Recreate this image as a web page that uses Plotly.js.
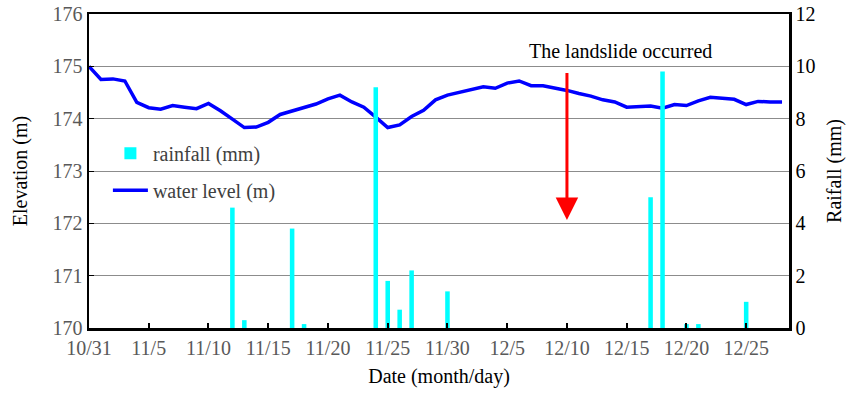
<!DOCTYPE html>
<html>
<head>
<meta charset="utf-8">
<script src="https://cdn.plot.ly/plotly-3.0.1.min.js"></script>
<style>html,body{margin:0;padding:0;background:#fff;}#chart{width:846px;height:394px;}</style>
</head>
<body>
<div id="chart"></div>
<script>
// ---- data ----
const levelDates = ["10/31","11/1","11/2","11/3","11/4","11/5","11/6","11/7","11/8","11/9","11/10",
  "11/11","11/12","11/13","11/14","11/15","11/16","11/17","11/18","11/19","11/20",
  "11/21","11/22","11/23","11/24","11/25","11/26","11/27","11/28","11/29","11/30",
  "12/1","12/2","12/3","12/4","12/5","12/6","12/7","12/8","12/9","12/10",
  "12/11","12/12","12/13","12/14","12/15","12/16","12/17","12/18","12/19","12/20",
  "12/21","12/22","12/23","12/24","12/25","12/26","12/27","12/28"];
const waterLevel = [175.00,174.75,174.76,174.72,174.31,174.21,174.18,174.25,174.22,174.19,174.29,
  174.15,173.99,173.83,173.84,173.93,174.08,174.15,174.22,174.28,174.38,
  174.45,174.32,174.22,174.03,173.83,173.88,174.04,174.16,174.36,174.45,
  174.50,174.55,174.61,174.58,174.68,174.72,174.63,174.63,174.59,174.54,
  174.48,174.43,174.36,174.32,174.22,174.23,174.24,174.20,174.27,174.25,
  174.34,174.41,174.39,174.37,174.27,174.33,174.32,174.32];
const rainDates = ["11/12","11/13","11/17","11/18","11/24","11/25","11/26","11/27","11/30",
  "12/17","12/18","12/20","12/21","12/25"];
const rainfall = [4.6,0.3,3.8,0.15,9.2,1.8,0.7,2.2,1.4,5.0,9.8,0.15,0.15,1.0];
const tickLabels = ["10/31","11/5","11/10","11/15","11/20","11/25","11/30","12/5","12/10","12/15","12/20","12/25"];
const landslideDate = "12/10";

const YEAR = 2020;
function toDate(md){ const [m,d] = md.split("/").map(Number); return YEAR + "-" + String(m).padStart(2,"0") + "-" + String(d).padStart(2,"0"); }

const serif = "Liberation Serif, Times New Roman, serif";
const DAY = 86400000;

const traces = [
  {
    type: "bar", name: "rainfall (mm)", x: rainDates.map(toDate), y: rainfall, yaxis: "y2",
    width: 0.38 * DAY, marker: {color: "#00FFFF"}, legendgroup: "a", hoverinfo: "skip"
  },
  {
    type: "scatter", mode: "lines", name: "water level (m)", x: levelDates.map(toDate), y: waterLevel,
    line: {color: "#0000FF", width: 3.5}, legendgroup: "b", hoverinfo: "skip"
  }
];

const layout = {
  width: 846, height: 394,
  margin: {l: 89, r: 57, t: 14, b: 66},
  paper_bgcolor: "#fff", plot_bgcolor: "#fff",
  font: {family: serif, size: 20, color: "#000"},
  showlegend: true,
  legend: {
    x: 0.027, y: 0.619, xanchor: "left", yanchor: "top",
    bgcolor: "rgba(0,0,0,0)", font: {family: serif, size: 20, color: "#404040"},
    traceorder: "grouped", tracegroupgap: 8, itemwidth: 35
  },
  xaxis: {
    type: "date",
    range: [toDate("10/31"), YEAR + "-12-28 14:00"],
    tickvals: tickLabels.map(toDate), ticktext: tickLabels,
    ticks: "inside", ticklen: 5, tickwidth: 2, tickcolor: "#000",
    showline: true, linecolor: "#000", linewidth: 2.5, mirror: true,
    showgrid: false, zeroline: false,
    tickfont: {family: serif, size: 20, color: "#595959"},
    title: {text: "Date (month/day)", font: {family: serif, size: 20, color: "#000"}, standoff: 12}
  },
  yaxis: {
    range: [170, 176], dtick: 1, tick0: 170,
    ticks: "inside", ticklen: 5, tickwidth: 1, tickcolor: "#000",
    showline: true, linecolor: "#000", linewidth: 2.5,
    showgrid: true, gridcolor: "#8c8c8c", gridwidth: 1, zeroline: false,
    tickfont: {family: serif, size: 20, color: "#595959"},
    title: {text: "Elevation (m)", font: {family: serif, size: 20, color: "#000"}, standoff: 20}
  },
  yaxis2: {
    overlaying: "y", side: "right", range: [0, 12], dtick: 2, tick0: 0,
    ticks: "", showline: true, linecolor: "#000", linewidth: 2.5,
    showgrid: false, zeroline: false,
    tickfont: {family: serif, size: 20, color: "#000"},
    title: {text: "Raifall (mm)", font: {family: serif, size: 20, color: "#000"}, standoff: 16}
  },
  annotations: [
    {
      x: toDate(landslideDate), y: 4.13, xref: "x", yref: "y2",
      ax: 0, axref: "pixel", ay: 9.8, ayref: "y2",
      text: "", showarrow: true, arrowcolor: "#FF0000", arrowwidth: 3, arrowhead: 2, arrowsize: 1.5
    },
    {
      x: YEAR + "-12-14 12:00", y: 10.57, xref: "x", yref: "y2",
      text: "The landslide occurred", showarrow: false,
      font: {family: serif, size: 20, color: "#000"}
    }
  ]
};

Plotly.newPlot("chart", traces, layout, {staticPlot: true, displayModeBar: false});
</script>
</body>
</html>
